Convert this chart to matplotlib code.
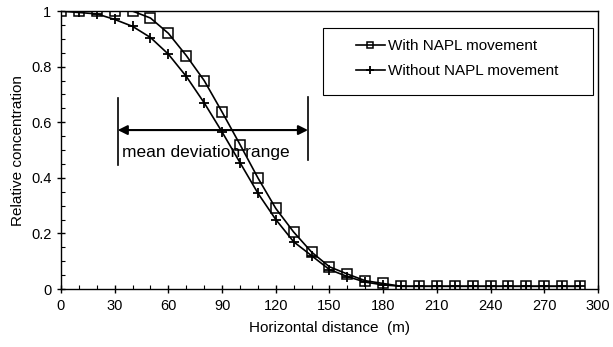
import matplotlib.pyplot as plt
import numpy as np
from matplotlib.ticker import MultipleLocator
from matplotlib.patches import Rectangle

plt.rcParams['font.family'] = ['Liberation Sans', 'DejaVu Sans']

distance = list(range(0, 300, 10))
with_napl = [1.0, 1.0, 1.0, 1.0, 1.0, 0.975, 0.92, 0.84, 0.75, 0.637,
             0.52, 0.40, 0.29, 0.205, 0.133, 0.08, 0.054, 0.03, 0.02, 0.01,
             0.01, 0.01, 0.01, 0.01, 0.01, 0.01, 0.01, 0.01, 0.01, 0.01]
without_napl = [1.0, 0.995, 0.99, 0.97, 0.945, 0.905, 0.845, 0.765, 0.67, 0.565,
                0.455, 0.345, 0.25, 0.17, 0.12, 0.07, 0.045, 0.025, 0.015, 0.01,
                0.01, 0.01, 0.01, 0.01, 0.01, 0.01, 0.01, 0.01, 0.01, 0.01]

fig = plt.figure(figsize=(6.13, 3.47), dpi=100)
ax = fig.add_axes([0.0995, 0.167, 0.876, 0.801])

ax.plot(distance, with_napl, color='black', lw=1.2, marker='s', ms=6.5,
        mfc='none', mec='black', mew=1.1, label='With NAPL movement')
ax.plot(distance, without_napl, color='black', lw=1.2, marker='+', ms=7,
        mew=1.3, label='Without NAPL movement')

ax.set_xlim(0, 300)
ax.set_ylim(0, 1)
ax.xaxis.set_major_locator(MultipleLocator(30))
ax.xaxis.set_minor_locator(MultipleLocator(10))
ax.yaxis.set_minor_locator(MultipleLocator(0.05))
ax.set_yticks([0, 0.2, 0.4, 0.6, 0.8, 1.0])
ax.set_yticklabels(['0', '0.2', '0.4', '0.6', '0.8', '1'])
ax.tick_params(which='major', direction='inout', length=6, width=1, labelsize=10.5,
               top=False, right=False, pad=4)
ax.tick_params(which='minor', direction='in', length=3, width=0.8,
               top=False, right=False)
for s in ax.spines.values():
    s.set_linewidth(1.0)

ax.set_xlabel('Horizontal distance  (m)', fontsize=11, labelpad=6)
ax.set_ylabel('Relative concentration', fontsize=11)

# mean deviation range annotation
ax.plot([31.7, 31.7], [0.446, 0.687], color='black', lw=1.2)
ax.plot([138, 138], [0.464, 0.69], color='black', lw=1.2)
ax.annotate('', xy=(31.7, 0.572), xytext=(138, 0.572),
            arrowprops=dict(arrowstyle='<|-|>', color='black', lw=1.5,
                            mutation_scale=14, shrinkA=0, shrinkB=0))
ax.text(34, 0.49, 'mean deviation range', fontsize=12.5, va='center', ha='left')

# legend with a wide hand-drawn frame
ax.add_patch(Rectangle((0.488, 0.698), 0.503, 0.241, transform=ax.transAxes,
                       fill=True, facecolor='white', edgecolor='black', lw=0.8,
                       zorder=4))
leg = ax.legend(loc='center left', bbox_to_anchor=(0.535, 0.829), fontsize=11,
                frameon=False, borderpad=0, labelspacing=0.75, markerscale=0.75,
                handlelength=1.9, handletextpad=0.2)
leg.set_zorder(5)

fig.savefig('out.png', dpi=100)
